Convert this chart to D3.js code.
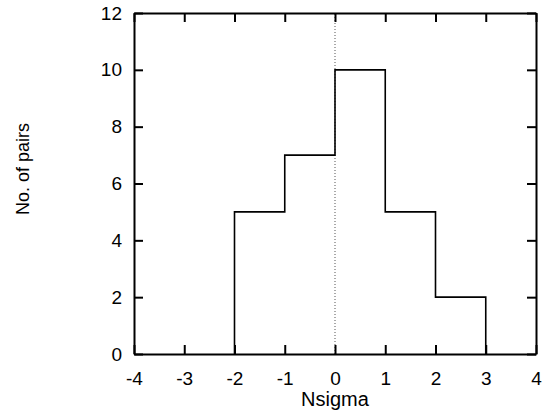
<!DOCTYPE html>
<html>
<head>
<meta charset="utf-8">
<script src="https://cdn.jsdelivr.net/npm/d3@7"></script>
<style>
  body { margin: 0; background: #fff; }
  svg text { font-family: "Liberation Sans", Arial, Helvetica, sans-serif; fill: #000; }
</style>
</head>
<body>
<div id="chart"></div>
<script>
// histogram bins (left edge, right edge) and counts
var binStarts = [-2, -1, 0, 1, 2];
var binEnds = [-1, 0, 1, 2, 3];
var counts = [5, 7, 10, 5, 2];
var xTicks = [-4, -3, -2, -1, 0, 1, 2, 3, 4];
var yTicks = [0, 2, 4, 6, 8, 10, 12];

var width = 556, height = 414;
var margin = {left: 134, right: 20, top: 13, bottom: 60};

var svg = d3.select('#chart').append('svg')
    .attr('width', width)
    .attr('height', height);

var x = d3.scaleLinear().domain([-4, 4]).range([margin.left, width - margin.right]);
var y = d3.scaleLinear().domain([0, 12]).range([height - margin.bottom, margin.top]);

// dotted zero line
svg.append('line')
    .attr('x1', x(0)).attr('x2', x(0))
    .attr('y1', y(0)).attr('y2', y(12))
    .attr('stroke', '#555')
    .attr('stroke-width', 1)
    .attr('stroke-dasharray', '1,2');

// histogram outline as a step path
var pts = [[binStarts[0], 0]];
binStarts.forEach(function (s, i) {
    pts.push([s, counts[i]]);
    pts.push([binEnds[i], counts[i]]);
});
pts.push([binEnds[binEnds.length - 1], 0]);

var path = d3.path();
path.moveTo(x(pts[0][0]), y(pts[0][1]));
pts.slice(1).forEach(function (p) { path.lineTo(x(p[0]), y(p[1])); });
svg.append('path')
    .attr('d', path.toString())
    .attr('fill', 'none')
    .attr('stroke', '#000')
    .attr('stroke-width', 1.6);

// axes with inward ticks
var tickFont = 19;
var fmt = function (d) { return String(d); }; // plain hyphen minus like the original
var axBottom = svg.append('g')
    .attr('transform', 'translate(0,' + y(0) + ')')
    .call(d3.axisBottom(x).tickValues(xTicks).tickSizeInner(-9).tickSizeOuter(0).tickPadding(18).tickFormat(fmt));
var axTop = svg.append('g')
    .attr('transform', 'translate(0,' + y(12) + ')')
    .call(d3.axisTop(x).tickValues(xTicks).tickSizeInner(-9).tickSizeOuter(0).tickFormat(''));
var axLeft = svg.append('g')
    .attr('transform', 'translate(' + x(-4) + ',0)')
    .call(d3.axisLeft(y).tickValues(yTicks).tickSizeInner(-9).tickSizeOuter(0).tickPadding(12).tickFormat(fmt));
var axRight = svg.append('g')
    .attr('transform', 'translate(' + x(4) + ',0)')
    .call(d3.axisRight(y).tickValues(yTicks).tickSizeInner(-9).tickSizeOuter(0).tickFormat(''));

[axBottom, axTop, axLeft, axRight].forEach(function (g) {
    g.select('.domain').attr('stroke', '#000').attr('stroke-width', 2);
    g.selectAll('.tick line').attr('stroke', '#000').attr('stroke-width', 2);
    g.selectAll('.tick text')
        .style('font-size', tickFont + 'px')
        .style('font-family', '"Liberation Sans", Arial, Helvetica, sans-serif')
        .attr('fill', '#000');
});

// axis titles
svg.append('text')
    .attr('x', x(0))
    .attr('y', 406)
    .attr('text-anchor', 'middle')
    .style('font-size', '20px')
    .text('Nsigma');

svg.append('text')
    .attr('transform', 'translate(29,' + 169 + ') rotate(-90)')
    .attr('text-anchor', 'middle')
    .style('font-size', '18px')
    .text('No. of pairs');
</script>
</body>
</html>
